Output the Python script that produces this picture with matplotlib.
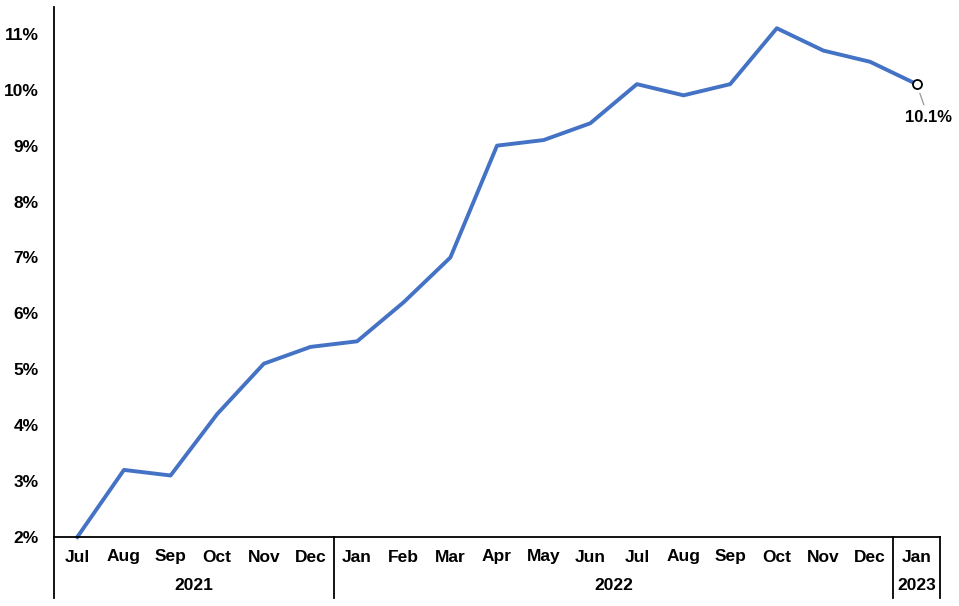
import matplotlib.pyplot as plt
import numpy as np

months = ['Jul', 'Aug', 'Sep', 'Oct', 'Nov', 'Dec',
          'Jan', 'Feb', 'Mar', 'Apr', 'May', 'Jun', 'Jul', 'Aug', 'Sep', 'Oct', 'Nov', 'Dec',
          'Jan']
years = ['2021', '2022', '2023']
year_counts = [6, 12, 1]
inflation = [2.0, 3.2, 3.1, 4.2, 5.1, 5.4,
             5.5, 6.2, 7.0, 9.0, 9.1, 9.4, 10.1, 9.9, 10.1, 11.1, 10.7, 10.5,
             10.1]
yticks = [2, 3, 4, 5, 6, 7, 8, 9, 10, 11]

plt.rcParams['font.family'] = ['Liberation Sans', 'DejaVu Sans']
plt.rcParams['font.weight'] = 'bold'

W, H = 959, 606
fig = plt.figure(figsize=(W / 100, H / 100), dpi=100)
ax = fig.add_axes([54 / W, (H - 537) / H, (940 - 54) / W, (537 - 7) / H])

x = np.arange(len(inflation))
ax.plot(x, inflation, color='#4472C4', linewidth=2.8, solid_joinstyle='round', clip_on=False)
ax.plot(x[-1], inflation[-1], marker='o', markersize=6.5, markerfacecolor='white',
        markeredgecolor='black', markeredgewidth=1.3, zorder=5, clip_on=False)
ax.annotate(f'{inflation[-1]:.1f}%', xy=(x[-1], inflation[-1]), xytext=(x[-1] + 0.25, inflation[-1] - 0.6),
            ha='center', va='center', fontsize=12, fontweight='bold',
            arrowprops=dict(arrowstyle='-', color='#A0A0A0', lw=1, shrinkA=2, shrinkB=7))

ax.set_xlim(-0.5, len(inflation) - 0.5)
ax.set_ylim(2, 11.48)
ax.set_yticks(yticks)
ax.set_yticklabels([f'{t}%' for t in yticks], fontsize=12.5, fontweight='bold')
ax.tick_params(axis='y', length=0, pad=11)
ax.set_xticks([])

for s in ['top', 'right']:
    ax.spines[s].set_visible(False)
for s in ['left', 'bottom']:
    ax.spines[s].set_linewidth(1.3)
    ax.spines[s].set_color('black')

trans = ax.get_xaxis_transform()
for i, m in enumerate(months):
    ax.text(x[i], -20 / 530, m, transform=trans, ha='center', va='center',
            fontsize=12.5, fontweight='bold')

bounds = np.concatenate([[0], np.cumsum(year_counts)]) - 0.5
for b in bounds:
    ax.plot([b, b], [0, -61 / 530], transform=trans, color='black', lw=1.3, clip_on=False)
for i, yr in enumerate(years):
    ax.text((bounds[i] + bounds[i + 1]) / 2, -48 / 530, yr, transform=trans,
            ha='center', va='center', fontsize=12.5, fontweight='bold')

fig.savefig('out.png', dpi=100)
